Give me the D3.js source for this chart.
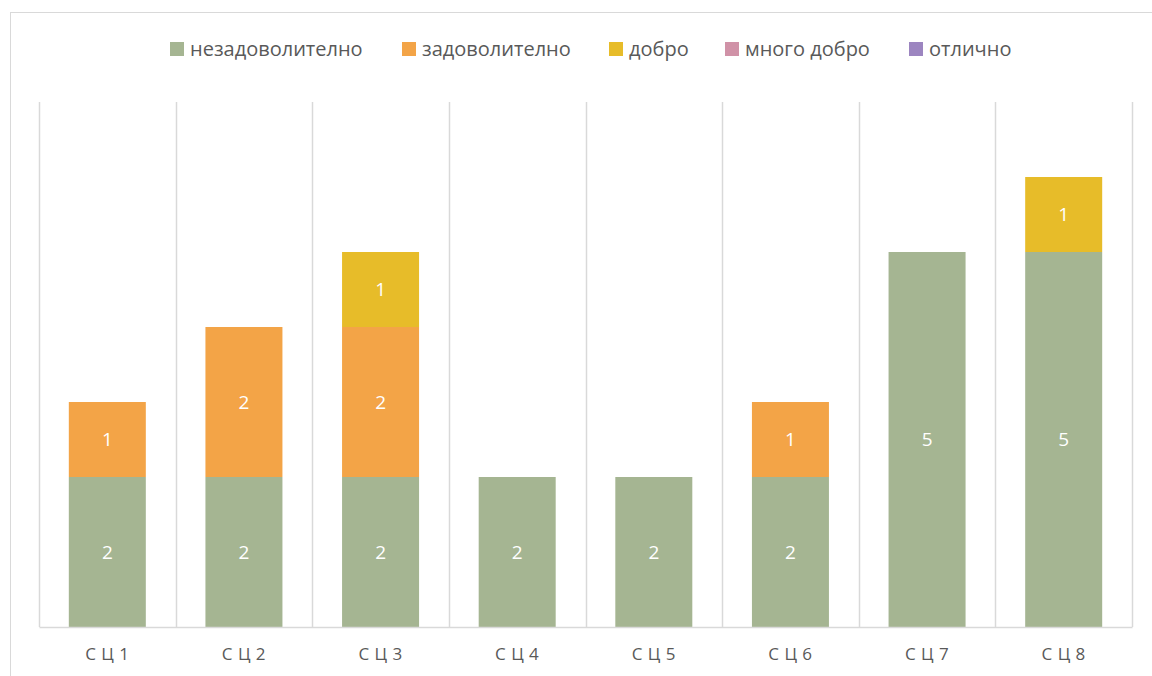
<!DOCTYPE html>
<html>
<head>
<meta charset="utf-8">
<script src="https://cdn.jsdelivr.net/npm/d3@7"></script>
<style>
  body { margin: 0; background: #fff; }
  text { font-family: "Open Sans", sans-serif; }
</style>
</head>
<body>
<div id="chart"></div>
<script>
// data
const categories = ["С Ц 1", "С Ц 2", "С Ц 3", "С Ц 4", "С Ц 5", "С Ц 6", "С Ц 7", "С Ц 8"];
const seriesNames = ["незадоволително", "задоволително", "добро", "много добро", "отлично"];
const nezad = [2, 2, 2, 2, 2, 2, 5, 5];
const zad = [1, 2, 2, 0, 0, 1, 0, 0];
const dobro = [0, 0, 1, 0, 0, 0, 0, 1];
const mnogoDobro = [0, 0, 0, 0, 0, 0, 0, 0];
const otlichno = [0, 0, 0, 0, 0, 0, 0, 0];
const colors = ["#a5b592", "#f3a447", "#e7bc29", "#d092a7", "#9c85c0"];

const W = 1152, H = 676;
const margin = {top: 102, right: 20, bottom: 49, left: 39};
const width = W - margin.left - margin.right,
      height = H - margin.top - margin.bottom;

const svg = d3.select("#chart").append("svg")
  .attr("width", W).attr("height", H);

// outer chart border
svg.append("rect")
  .attr("x", 10.5).attr("y", 12.5)
  .attr("width", W).attr("height", H)
  .attr("fill", "none").attr("stroke", "#d9d9d9").attr("stroke-width", 1);

const g = svg.append("g").attr("transform", `translate(${margin.left},${margin.top})`);

const rows = categories.map((c, i) => ({
  cat: c, s0: nezad[i], s1: zad[i], s2: dobro[i], s3: mnogoDobro[i], s4: otlichno[i]
}));
const keys = ["s0", "s1", "s2", "s3", "s4"];
const stacked = d3.stack().keys(keys)(rows);

const x = d3.scaleBand().domain(categories).range([0, width]).paddingInner(0).paddingOuter(0);
const y = d3.scaleLinear().domain([0, 7]).range([height, 0]);

// vertical gridlines between categories
const edges = categories.map(c => x(c)).concat([width]);
g.selectAll(".vgrid").data(edges).join("line")
  .attr("x1", d => Math.round(d) + 0.5).attr("x2", d => Math.round(d) + 0.5)
  .attr("y1", 0).attr("y2", height)
  .attr("stroke", "#d9d9d9").attr("stroke-width", 1.5);

const barW = 77;
const layers = g.selectAll(".layer").data(stacked).join("g")
  .attr("fill", (d, i) => colors[i]);

layers.selectAll("rect").data(d => d.filter(p => p[1] - p[0] > 0)).join("rect")
  .attr("x", d => x(d.data.cat) + (x.bandwidth() - barW) / 2)
  .attr("y", d => y(d[1]))
  .attr("width", barW)
  .attr("height", d => y(d[0]) - y(d[1]));

layers.selectAll("text").data(d => d.filter(p => p[1] - p[0] > 0)).join("text")
  .attr("x", d => x(d.data.cat) + x.bandwidth() / 2)
  .attr("y", d => (y(d[0]) + y(d[1])) / 2)
  .attr("dy", "0.35em")
  .attr("text-anchor", "middle")
  .attr("fill", "#fff")
  .style("font-size", "19px")
  .text(d => d[1] - d[0]);

// x axis
const xAxis = g.append("g")
  .attr("transform", `translate(0,${height})`)
  .call(d3.axisBottom(x).tickSize(0).tickPadding(21));
xAxis.select(".domain").attr("stroke", "#d9d9d9").attr("stroke-width", 1.5);
xAxis.selectAll("text")
  .attr("fill", "#595959")
  .style("font-size", "17px")
  .style("letter-spacing", "0.5px")
  .style("font-family", "Open Sans, sans-serif");

// legend
const legendX = [170, 402, 609, 725, 909];
const legend = svg.append("g").selectAll("g").data(seriesNames).join("g")
  .attr("transform", (d, i) => `translate(${legendX[i]},49)`);
legend.append("rect")
  .attr("x", 0).attr("y", -7).attr("width", 14).attr("height", 14)
  .attr("fill", (d, i) => colors[i]);
legend.append("text")
  .attr("x", 20).attr("dy", "0.35em")
  .attr("fill", "#595959")
  .style("font-size", "20px")
  .text(d => d);
</script>
</body>
</html>
